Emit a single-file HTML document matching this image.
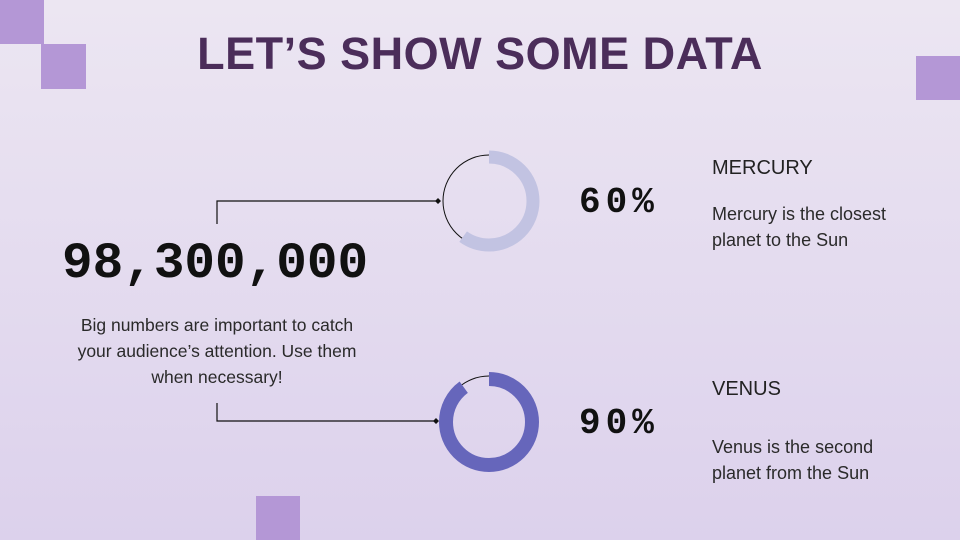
<!DOCTYPE html>
<html><head><meta charset="utf-8"><style>
html,body{margin:0;padding:0}
body{width:960px;height:540px;position:relative;overflow:hidden;background:linear-gradient(#ece6f2,#dcd1ec);font-family:"Liberation Sans",sans-serif}
.sq{position:absolute;background:#b497d6}
.t{position:absolute;white-space:nowrap}
</style></head><body>
<div class="sq" style="left:0;top:0;width:44px;height:44px"></div>
<div class="sq" style="left:41px;top:44px;width:45px;height:45px"></div>
<div class="sq" style="left:916px;top:56px;width:44px;height:44px"></div>
<div class="sq" style="left:256px;top:496px;width:44px;height:44px"></div>
<div class="t" style="left:0;width:960px;text-align:center;top:28px;font-size:45px;font-weight:bold;color:#4b2d5a;letter-spacing:0.5px">LET’S SHOW SOME DATA</div>
<div class="t" style="left:62px;top:236px;font-family:'Liberation Mono',monospace;font-weight:bold;font-size:51px;color:#111">98,300,000</div>
<div class="t" style="left:17px;width:400px;text-align:center;top:312px;font-size:17.5px;line-height:26px;color:#2a2a2a">Big numbers are important to catch<br>your audience’s attention. Use them<br>when necessary!</div>
<div class="t" style="left:579px;top:182px;font-family:'Liberation Mono',monospace;font-weight:bold;font-size:36px;letter-spacing:5px;color:#111">60%</div>
<div class="t" style="left:579px;top:403px;font-family:'Liberation Mono',monospace;font-weight:bold;font-size:36px;letter-spacing:5px;color:#111">90%</div>
<div class="t" style="left:712px;top:157px;font-size:20px;color:#222">MERCURY</div>
<div class="t" style="left:712px;top:201px;font-size:18px;line-height:26px;color:#2a2a2a">Mercury is the closest<br>planet to the Sun</div>
<div class="t" style="left:712px;top:378px;font-size:20px;color:#222">VENUS</div>
<div class="t" style="left:712px;top:434px;font-size:18px;line-height:26px;color:#2a2a2a">Venus is the second<br>planet from the Sun</div>
<svg width="960" height="540" style="position:absolute;left:0;top:0">
<g fill="none" stroke="#111" stroke-width="1.2">
<polyline points="217,224 217,201 438,201"/>
<polyline points="217,403 217,421 436,421"/>
</g>
<path d="M438,198 l3,3 -3,3 -3,-3z M436,418 l3,3 -3,3 -3,-3z" fill="#111"/>
<circle cx="489" cy="201" r="46" fill="none" stroke="#111" stroke-width="1"/>
<circle cx="489" cy="201" r="44" fill="none" stroke="#c2c3e2" stroke-width="13" pathLength="100" stroke-dasharray="60 40" transform="rotate(-90 489 201)"/>
<circle cx="489" cy="422" r="46" fill="none" stroke="#111" stroke-width="1"/>
<circle cx="489" cy="422" r="43" fill="none" stroke="#6666bb" stroke-width="14" pathLength="100" stroke-dasharray="90 10" transform="rotate(-90 489 422)"/>
</svg>
</body></html>
